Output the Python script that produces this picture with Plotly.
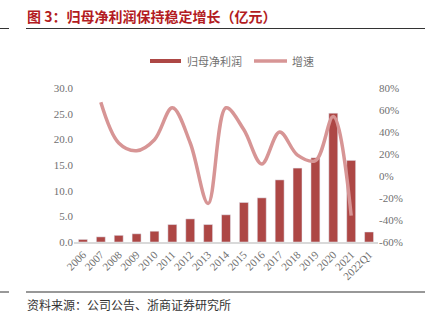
import plotly.graph_objects as go

categories = ["2006", "2007", "2008", "2009", "2010", "2011", "2012", "2013", "2014",
              "2015", "2016", "2017", "2018", "2019", "2020", "2021", "2022Q1"]
profit = [0.5, 1.0, 1.3, 1.6, 2.1, 3.4, 4.5, 3.4, 5.3, 7.7, 8.6, 12.1, 14.4, 16.4, 25.1, 15.9, 1.95]
growth_cats = categories[1:16]
growth = [67, 30, 23, 33, 62, 30, -25, 62, 42, 11, 40, 19, 14, 54, -36]
left_ticks = [0, 5, 10, 15, 20, 25, 30]
right_ticks = [-60, -40, -20, 0, 20, 40, 60, 80]

BAR = "#ad4745"
LINE = "#d79595"
W, H = 429, 322
L, R, T, B = 74, 51, 88, 80
PW, PH = W - L - R, H - T - B

def px(x):
    return (x - L) / PW

def py(y):
    return (H - B - y) / PH

fig = go.Figure()
fig.add_trace(go.Bar(x=categories, y=profit, marker_color=BAR, width=0.5,
                     name="归母净利润", showlegend=False))
fig.add_trace(go.Scatter(x=growth_cats, y=growth, yaxis="y2", mode="lines",
                         line=dict(color=LINE, width=3.5, shape="spline", smoothing=1.0),
                         name="增速", showlegend=False))

tickfont = dict(family="Liberation Serif", size=11, color="#6f6f6f")
fig.update_layout(
    width=W, height=H,
    margin=dict(l=L, r=R, t=T, b=B),
    plot_bgcolor="white", paper_bgcolor="white",
    bargap=0.5,
    xaxis=dict(type="category", tickangle=-45, tickfont=tickfont, showgrid=False,
               showline=True, linecolor="#d9d9d9", linewidth=2, ticks="",
               range=[-0.5, 16.5]),
    yaxis=dict(range=[0, 30], tickvals=left_ticks,
               ticktext=[f"{v:.1f}" for v in left_ticks], tickfont=tickfont,
               showgrid=False, zeroline=False, showline=False, ticks=""),
    yaxis2=dict(range=[-60, 80], tickvals=right_ticks,
                ticktext=[f"{v}%" for v in right_ticks], tickfont=tickfont,
                overlaying="y", side="right", showgrid=False, zeroline=False,
                showline=False, ticks=""),
)

shapes = [
    dict(type="line", xref="paper", yref="paper", x0=px(26), x1=px(425), y0=py(28.5), y1=py(28.5),
         line=dict(color="#333333", width=1.2)),
    dict(type="line", xref="paper", yref="paper", x0=px(0), x1=px(9), y0=py(28.5), y1=py(28.5),
         line=dict(color="#333333", width=1)),
    dict(type="line", xref="paper", yref="paper", x0=px(26), x1=px(425), y0=py(292), y1=py(292),
         line=dict(color="#333333", width=1.2)),
    dict(type="line", xref="paper", yref="paper", x0=px(0), x1=px(9), y0=py(292), y1=py(292),
         line=dict(color="#333333", width=1)),
    dict(type="rect", xref="paper", yref="paper", x0=px(150), x1=px(181), y0=py(63), y1=py(59),
         fillcolor=BAR, line=dict(width=0)),
    dict(type="line", xref="paper", yref="paper", x0=px(254), x1=px(287), y0=py(61), y1=py(61),
         line=dict(color=LINE, width=3.5)),
]
fig.update_layout(shapes=shapes)

annotations = [
    dict(text="<b>图 3：归母净利润保持稳定增长（亿元）</b>", xref="paper", yref="paper",
         x=px(25), y=py(16), xanchor="left", yanchor="middle", showarrow=False,
         font=dict(family="Noto Sans CJK SC", size=14, color="#b31b22")),
    dict(text="资料来源：公司公告、浙商证券研究所", xref="paper", yref="paper",
         x=px(25), y=py(304), xanchor="left", yanchor="middle", showarrow=False,
         font=dict(family="Noto Sans CJK SC", size=12, color="#333333")),
    dict(text="归母净利润", xref="paper", yref="paper",
         x=px(185), y=py(61), xanchor="left", yanchor="middle", showarrow=False,
         font=dict(family="Noto Sans CJK SC", size=11, color="#707070")),
    dict(text="增速", xref="paper", yref="paper",
         x=px(290), y=py(61), xanchor="left", yanchor="middle", showarrow=False,
         font=dict(family="Noto Sans CJK SC", size=11, color="#707070")),
]
fig.update_layout(annotations=annotations)

fig.write_html("out.html")
